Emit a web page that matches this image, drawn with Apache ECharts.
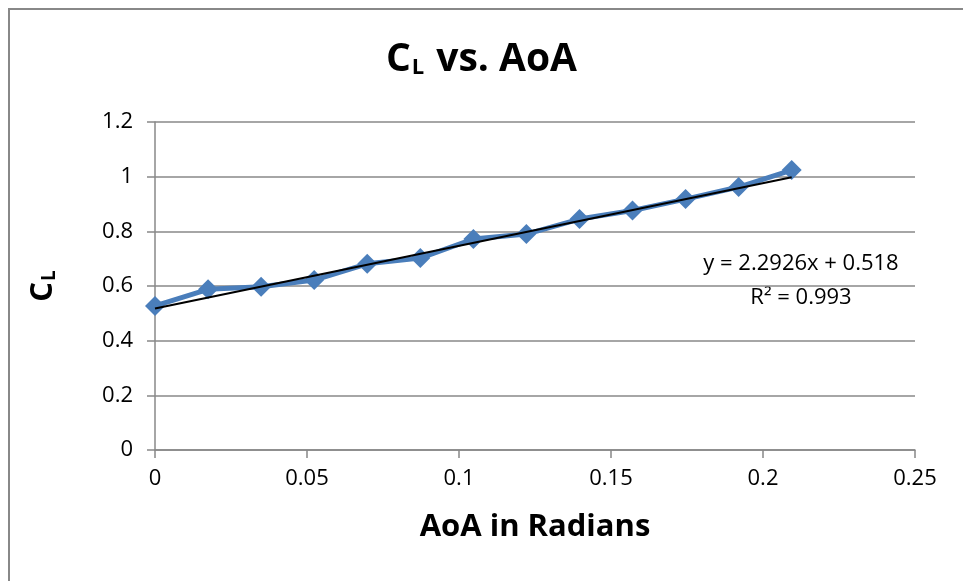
<!DOCTYPE html>
<html>
<head>
<meta charset="utf-8">
<script src="https://cdn.jsdelivr.net/npm/echarts@6/dist/echarts.min.js"></script>
<style>html,body{margin:0;padding:0;background:#fff;}#c{width:963px;height:581px;}</style>
</head>
<body>
<div id="c"></div>
<script>
var aoaRad = [0, 0.01745, 0.0349, 0.05236, 0.06981, 0.08727, 0.10472, 0.12217, 0.13963, 0.15708, 0.17453, 0.19199, 0.20944];
var cl = [0.527, 0.588, 0.597, 0.622, 0.681, 0.702, 0.772, 0.790, 0.845, 0.876, 0.918, 0.962, 1.024];
var trendX = [0, 0.20944];
var trendY = [0.518, 0.998];
var xTicks = [0, 0.05, 0.1, 0.15, 0.2, 0.25];
var yTicks = [0, 0.2, 0.4, 0.6, 0.8, 1, 1.2];
var eqText = 'y = 2.2926x + 0.518';
var r2Text = 'R² = 0.993';

var FONT = 'Open Sans';
var chart = echarts.init(document.getElementById('c'));
chart.setOption({
  animation: false,
  backgroundColor: '#fff',
  textStyle: {fontFamily: FONT},
  title: {
    text: '{m|C}{s|L}{m|vs. AoA}',
    left: 'center', top: 35,
    textStyle: {
      rich: {
        m: {fontFamily: FONT, fontSize: 39, fontWeight: 'bold', color: '#000'},
        s: {fontFamily: FONT, fontSize: 22, fontWeight: 'bold', color: '#000', verticalAlign: 'bottom', padding: [16, 12, 0, 1]}
      }
    }
  },
  grid: {left: 155, right: 48, top: 122, bottom: 131},
  xAxis: {
    type: 'value', min: 0, max: 0.25, interval: 0.05,
    axisLine: {show: true, lineStyle: {color: '#888', width: 1.5}},
    axisTick: {show: true, length: 8, lineStyle: {color: '#888', width: 1.5}},
    axisLabel: {color: '#000', fontSize: 22, fontFamily: FONT, margin: 18,
      formatter: function (v) { return String(Math.round(v * 100) / 100); }},
    splitLine: {show: false},
    name: 'AoA in Radians', nameLocation: 'middle', nameGap: 62,
    nameTextStyle: {color: '#000', fontSize: 31, fontWeight: 'bold', fontFamily: FONT}
  },
  yAxis: {
    type: 'value', min: 0, max: 1.2, interval: 0.2,
    axisLine: {show: true, lineStyle: {color: '#888', width: 1.5}},
    axisTick: {show: true, length: 8, lineStyle: {color: '#888', width: 1.5}},
    axisLabel: {color: '#000', fontSize: 22, fontFamily: FONT, margin: 22,
      formatter: function (v) { return String(Math.round(v * 10) / 10); }},
    splitLine: {show: true, lineStyle: {color: '#888', width: 1.5}},
    name: '{m|C}{s|L}', nameLocation: 'middle', nameGap: 96,
    nameTextStyle: {
      rich: {
        m: {fontFamily: FONT, fontSize: 31, fontWeight: 'bold', color: '#000'},
        s: {fontFamily: FONT, fontSize: 19, fontWeight: 'bold', color: '#000', verticalAlign: 'bottom', padding: [12, 0, 0, 1]}
      }
    }
  },
  series: [
    {
      type: 'line',
      data: aoaRad.map(function (x, i) { return [x, cl[i]]; }),
      symbol: 'diamond', symbolSize: 20,
      lineStyle: {color: '#4a7ebb', width: 5},
      itemStyle: {color: '#4a7ebb'},
      z: 2
    },
    {
      type: 'line',
      data: trendX.map(function (x, i) { return [x, trendY[i]]; }),
      symbol: 'none',
      lineStyle: {color: '#000', width: 2},
      z: 3
    }
  ],
  graphic: [
    {type: 'rect', shape: {x: 9, y: 9, width: 1000, height: 1000},
      style: {fill: 'none', stroke: '#888', lineWidth: 2}, silent: true},
    {type: 'text', x: 801, y: 264, style: {text: eqText, fontFamily: FONT, fontSize: 22, fill: '#000', align: 'center', verticalAlign: 'middle'}},
    {type: 'text', x: 801, y: 298, style: {text: r2Text, fontFamily: FONT, fontSize: 22, fill: '#000', align: 'center', verticalAlign: 'middle'}}
  ]
});
</script>
</body>
</html>
